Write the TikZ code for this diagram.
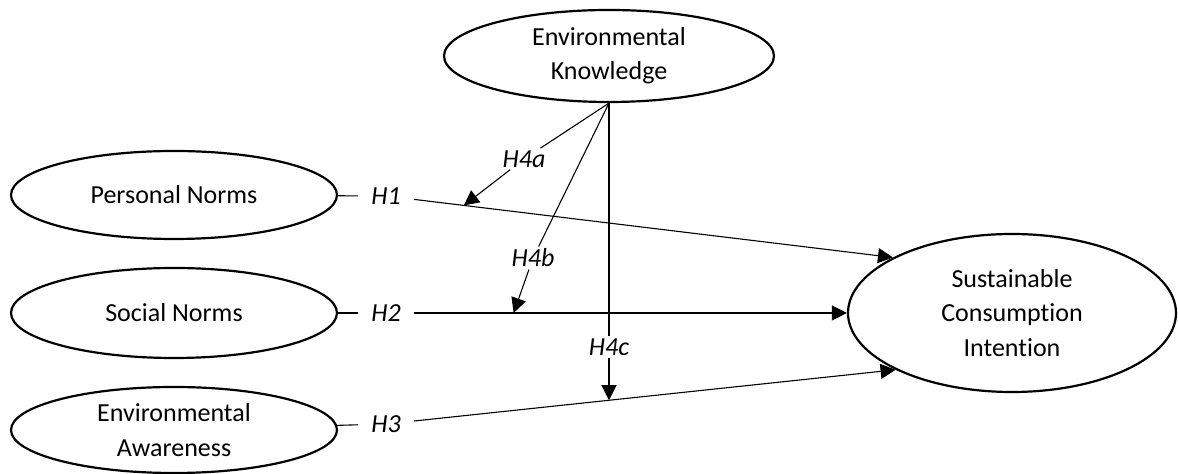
\documentclass[tikz,border=0pt]{standalone}
\usepackage{fontspec}
\setmainfont[Ligatures=NoCommon]{Carlito}
\usetikzlibrary{shapes.geometric, arrows.meta}

\begin{document}
\begin{tikzpicture}[
    x=0.5pt, y=-0.5pt,
    font=\fontsize{13}{17.2}\selectfont,
    construct/.style={draw, ellipse, line width=1.1pt, align=center, inner sep=0pt, minimum width=163pt, minimum height=44pt},
    hyp/.style={font=\fontsize{13}{17.2}\selectfont\itshape, inner xsep=6.5pt, inner ysep=1pt},
    link/.style={line width=0.55pt},
    arr/.style={link, -{Triangle[length=7.5pt, width=7.5pt]}},
]
    \useasboundingbox (0, 0) rectangle (1178, 474);

    % Constructs
    \node[construct, minimum width=165pt, minimum height=46pt] (ek) at (609, 56) {Environmental\\Knowledge};
    \node[construct] (pn) at (174, 195) {Personal Norms};
    \node[construct, minimum height=45pt] (sn) at (174, 313) {Social Norms};
    \node[construct, minimum height=43pt] (ea) at (174, 430) {Environmental\\Awareness};
    \node[construct, minimum width=164pt, minimum height=79pt] (sci) at (1012, 313) {Sustainable\\Consumption\\Intention};

    % Hypothesis labels
    \node[hyp] (h1) at (386, 196) {H1};
    \node[hyp] (h2) at (386, 313) {H2};
    \node[hyp] (h3) at (386, 424) {H3};
    \node[hyp] (h4a) at (524, 159) {H4a};
    \node[hyp] (h4b) at (533, 258) {H4b};
    \node[hyp] (h4c) at (609, 347) {H4c};

    % Direct paths
    \draw[link] (pn) -- (h1);
    \draw[arr] (h1) -- (sci.155) coordinate[pos=0.104] (m1);
    \draw[link] (sn) -- (h2);
    \draw[arr] (h2) -- (sci) coordinate[pos=0.23] (m2);
    \draw[link] (ea) -- (h3);
    \draw[arr] (h3) -- (sci.206) coordinate[pos=0.406] (m3);

    % Moderation by knowledge
    \draw[link] (ek.south) -- (h4a);
    \draw[arr] (h4a) -- (m1);
    \draw[link] (ek.south) -- (h4b);
    \draw[arr] (h4b) -- (m2);
    \draw[link] (ek.south) -- (h4c);
    \draw[arr] (h4c) -- (h4c |- m3);
\end{tikzpicture}
\end{document}
